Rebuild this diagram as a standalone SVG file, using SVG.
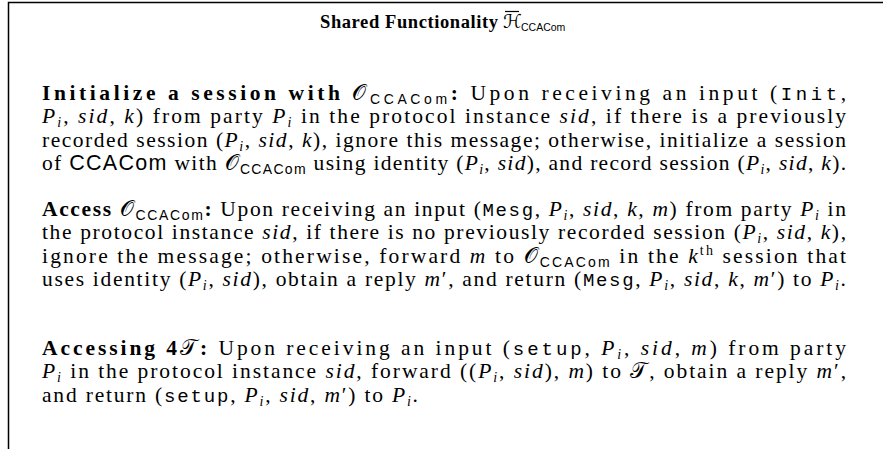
<svg xmlns="http://www.w3.org/2000/svg" width="883" height="449" viewBox="0 0 883 449">
<style>
text{font-family:"Liberation Serif",serif;font-size:21.5px;fill:#000}
.b{font-weight:bold}
.i{font-style:italic}
.tt{font-family:"Liberation Mono",monospace;font-size:19px}
.sf{font-family:"Liberation Sans",sans-serif}
.sub{font-size:14px}
.cal{font-family:"DejaVu Serif","DejaVu Sans",serif;font-style:normal}
</style>
<rect width="883" height="449" fill="#fff"/>
<g id="frame"><path d="M8.5,449 V2.5 H883" fill="none" stroke="#000" stroke-width="1.5"/></g>
<g id="title">
<text x="320" y="28" textLength="178" class="b" style="font-size:18.5px">Shared Functionality</text>
<text x="503" y="28" class="cal" style="font-size:19px">ℋ</text>
<path d="M505,11.5 H519" stroke="#000" stroke-width="1.2"/>
<text x="521" y="31" class="sf" style="font-size:10.5px">CCACom</text>
</g>
<g id="p1">
<text x="42" y="100" textLength="804"><tspan class="b">Initialize a session with </tspan><tspan class="cal">𝒪</tspan><tspan class="sf sub" dy="4">CCACom</tspan><tspan class="b" dy="-4">:</tspan> Upon receiving an input (<tspan class="tt">Init</tspan>,</text>
<text x="42" y="123" textLength="804"><tspan class="i">P</tspan><tspan class="i sub" dy="4">i</tspan><tspan dy="-4">, </tspan><tspan class="i">sid</tspan>, <tspan class="i">k</tspan>) from party <tspan class="i">P</tspan><tspan class="i sub" dy="4">i</tspan><tspan dy="-4"> in the protocol instance </tspan><tspan class="i">sid</tspan>, if there is a previously</text>
<text x="42" y="147" textLength="804">recorded session (<tspan class="i">P</tspan><tspan class="i sub" dy="4">i</tspan><tspan dy="-4">, </tspan><tspan class="i">sid</tspan>, <tspan class="i">k</tspan>), ignore this message; otherwise, initialize a session</text>
<text x="42" y="170" textLength="804">of <tspan class="sf">CCACom</tspan> with <tspan class="cal">𝒪</tspan><tspan class="sf sub" dy="4">CCACom</tspan><tspan dy="-4"> using identity (</tspan><tspan class="i">P</tspan><tspan class="i sub" dy="4">i</tspan><tspan dy="-4">, </tspan><tspan class="i">sid</tspan>), and record session (<tspan class="i">P</tspan><tspan class="i sub" dy="4">i</tspan><tspan dy="-4">, </tspan><tspan class="i">sid</tspan>, <tspan class="i">k</tspan>).</text>
</g>
<g id="p2">
<text x="42" y="216" textLength="804"><tspan class="b">Access </tspan><tspan class="cal">𝒪</tspan><tspan class="sf sub" dy="4">CCACom</tspan><tspan class="b" dy="-4">:</tspan> Upon receiving an input (<tspan class="tt">Mesg</tspan>, <tspan class="i">P</tspan><tspan class="i sub" dy="4">i</tspan><tspan dy="-4">, </tspan><tspan class="i">sid</tspan>, <tspan class="i">k</tspan>, <tspan class="i">m</tspan>) from party <tspan class="i">P</tspan><tspan class="i sub" dy="4">i</tspan><tspan dy="-4"> in</tspan></text>
<text x="42" y="239" textLength="804">the protocol instance <tspan class="i">sid</tspan>, if there is no previously recorded session (<tspan class="i">P</tspan><tspan class="i sub" dy="4">i</tspan><tspan dy="-4">, </tspan><tspan class="i">sid</tspan>, <tspan class="i">k</tspan>),</text>
<text x="42" y="263" textLength="804">ignore the message; otherwise, forward <tspan class="i">m</tspan> to <tspan class="cal">𝒪</tspan><tspan class="sf sub" dy="4">CCACom</tspan><tspan dy="-4"> in the </tspan><tspan class="i">k</tspan><tspan class="sub" dy="-8">th</tspan><tspan dy="8"> session that</tspan></text>
<text x="42" y="286" textLength="804">uses identity (<tspan class="i">P</tspan><tspan class="i sub" dy="4">i</tspan><tspan dy="-4">, </tspan><tspan class="i">sid</tspan>), obtain a reply <tspan class="i">m</tspan>′, and return (<tspan class="tt">Mesg</tspan>, <tspan class="i">P</tspan><tspan class="i sub" dy="4">i</tspan><tspan dy="-4">, </tspan><tspan class="i">sid</tspan>, <tspan class="i">k</tspan>, <tspan class="i">m</tspan>′) to <tspan class="i">P</tspan><tspan class="i sub" dy="4">i</tspan><tspan dy="-4">.</tspan></text>
</g>
<g id="p3">
<text x="42" y="355" textLength="804"><tspan class="b">Accessing 4</tspan><tspan class="cal">𝒯</tspan><tspan class="b">:</tspan> Upon receiving an input (<tspan class="tt">setup</tspan>, <tspan class="i">P</tspan><tspan class="i sub" dy="4">i</tspan><tspan dy="-4">, </tspan><tspan class="i">sid</tspan>, <tspan class="i">m</tspan>) from party</text>
<text x="42" y="378" textLength="804"><tspan class="i">P</tspan><tspan class="i sub" dy="4">i</tspan><tspan dy="-4"> in the protocol instance </tspan><tspan class="i">sid</tspan>, forward ((<tspan class="i">P</tspan><tspan class="i sub" dy="4">i</tspan><tspan dy="-4">, </tspan><tspan class="i">sid</tspan>), <tspan class="i">m</tspan>) to <tspan class="cal">𝒯</tspan>, obtain a reply <tspan class="i">m</tspan>′,</text>
<text x="42" y="402" textLength="376">and return (<tspan class="tt">setup</tspan>, <tspan class="i">P</tspan><tspan class="i sub" dy="4">i</tspan><tspan dy="-4">, </tspan><tspan class="i">sid</tspan>, <tspan class="i">m</tspan>′) to <tspan class="i">P</tspan><tspan class="i sub" dy="4">i</tspan><tspan dy="-4">.</tspan></text>
</g>
</svg>
